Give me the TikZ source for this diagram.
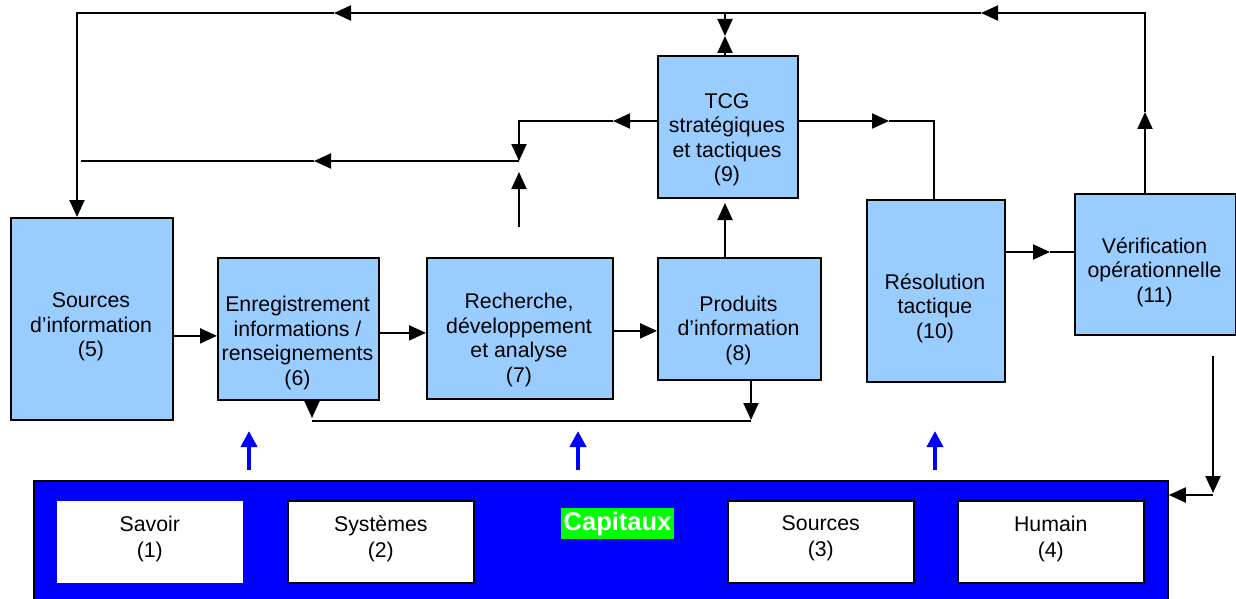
\documentclass[tikz,border=0pt]{standalone}
\usepackage{fontspec}
\setmainfont{Liberation Sans}
\usetikzlibrary{arrows.meta}
\definecolor{lb}{HTML}{99CCFF}
\definecolor{bb}{HTML}{0000FF}
\definecolor{gg}{HTML}{00FF00}
\begin{document}
\begin{tikzpicture}[x=1pt,y=-1pt,
  box/.style={draw=black, line width=1.8pt, fill=lb, inner sep=0pt, anchor=north west},
  wbox/.style={draw=black, line width=1.6pt, fill=white, inner sep=0pt, anchor=north west,
    minimum width=186pt, minimum height=82pt, align=center, text depth=11pt,
    font=\fontsize{21.3}{26}\selectfont},
  txt/.style={align=center, inner sep=0pt, font=\fontsize{21.3}{24.5}\selectfont},
  ln/.style={line width=2pt},
  thinln/.style={line width=1.4pt},
  arr/.style={line width=2pt, -{Triangle[length=17pt,width=15pt]}},
  bluearr/.style={draw=bb, line width=4.5pt, -{Triangle[length=16pt,width=16pt]}}]
\useasboundingbox (0,0) rectangle (1236,599);

% boxes
\node[box, minimum width=162pt, minimum height=202pt] (b5) at (10,217) {};
\node[box, minimum width=161pt, minimum height=142pt] (b6) at (217,257) {};
\node[box, minimum width=186pt, minimum height=141pt] (b7) at (426,257) {};
\node[box, minimum width=163pt, minimum height=122pt] (b8) at (657,257) {};
\node[box, minimum width=140pt, minimum height=142pt] (b9) at (657,55) {};
\node[box, minimum width=138pt, minimum height=182pt] (b10) at (866,199) {};
\node[box, minimum width=161pt, minimum height=141pt] (b11) at (1074,193) {};

% texts
\node[txt] (t5) at (91,327) {Sources\\d’information\\(5)};
\node[txt] (t6) at (297.5,343) {Enregistrement\\informations /\\renseignements\\(6)};
\node[txt] (t7) at (519,340) {Recherche,\\développement\\et analyse\\(7)};
\node[txt] (t8) at (738.5,330) {Produits\\d’information\\(8)};
\node[txt] (t9) at (727,140) {TCG\\stratégiques\\et tactiques\\(9)};
\node[txt] (t10) at (935,308) {Résolution\\tactique\\(10)};
\node[txt] (t11) at (1154.5,272) {Vérification\\opérationnelle\\(11)};

% capital bar
\node[draw=black, line width=1.8pt, fill=bb, anchor=north west, minimum width=1134pt, minimum height=135pt, inner sep=0pt] (cap) at (33,480) {};
\node[wbox, draw=none] (s1) at (56,500) {Savoir\\(1)};
\node[wbox] (s2) at (287,500) {Systèmes\\(2)};
\node[wbox] (s3) at (727,500) {Sources\\(3)};
\node[wbox] (s4) at (957,500) {Humain\\(4)};
\node[fill=gg, text=white, inner sep=0pt, minimum width=113pt, minimum height=31pt,
  font=\bfseries\fontsize{25.5}{28}\selectfont] (capt) at (617.5,523.5) {Capitaux};

% top loop
\coordinate (a1) at (1145,193);
\coordinate (a2) at (1145,112);
\coordinate (a3) at (1145,13);
\coordinate (a4) at (981,13);
\coordinate (a5) at (334,13);
\coordinate (a6) at (77,13);
\draw[arr] (a1) -- (a2);
\draw[arr] (a2) -- (a3) -- (a4);
\draw[arr] (a4) -- (a5);
\draw[arr] (a5) -- (a6) -- (a6 |- b5.north);

% TCG top
\coordinate (c1) at (725,13);
\coordinate (c2) at (725,36);
\draw[arr] (c1) -- (c2);
\draw[arr] (c2 |- b9.north) -- (c2);

% left of TCG
\coordinate (d0) at (657,121);
\coordinate (d1) at (613,121);
\coordinate (d2) at (519,121);
\coordinate (d3) at (519,161);
\coordinate (d4) at (519,227);
\coordinate (d5) at (519,172);
\coordinate (d6) at (314,161);
\coordinate (d7) at (81,161);
\draw[arr] (d0) -- (d1);
\draw[arr] (d1) -- (d2) -- (d3);
\draw[arr] (d4) -- (d5);
\draw[arr] (d3) -- (d6);
\draw[thinln] (d6) -- (d7);

% right of TCG
\coordinate (e0) at (797,121);
\coordinate (e1) at (889,121);
\coordinate (e2) at (934,121);
\draw[arr] (e0) -- (e1);
\draw[ln] (e1) -- (e2) -- (e2 |- b10.north);

% 8 -> 9
\coordinate (f1) at (725,203);
\draw[arr] (f1 |- b8.north) -- (f1);

% main chain
\draw[arr] ([yshift=-17pt]b5.east) -- ([yshift=-17pt]b5.east -| b6.west);
\draw[arr] ([yshift=-4pt]b6.east) -- ([yshift=-4pt]b6.east -| b7.west);
\draw[arr] ([yshift=-2.5pt]b7.east) -- ([yshift=-2.5pt]b7.east -| b8.west);

% bottom return
\coordinate (h1) at (312,399);
\coordinate (h2) at (312,418);
\coordinate (h3) at (312,421);
\coordinate (h4) at (751,421);
\coordinate (h5) at (751,420);
\draw[arr] (h1) -- (h2);
\draw[thinln] (h3) -- (h4);
\draw[arr] (h4 |- b8.south) -- (h5);

% 10 -> 11
\coordinate (k0) at (1004,252);
\coordinate (k1) at (1050,252);
\draw[arr] (k0) -- (k1);
\draw[thinln] (k1) -- (k1 -| b11.west);

% 11 -> capital
\coordinate (m0) at (1213,356);
\coordinate (m1) at (1213,493);
\coordinate (m2) at (1213,495);
\draw[arr] (m0) -- (m1);
\draw[arr] (m2) -- (m2 -| cap.east);

% blue arrows
\coordinate (u1) at (249,431);
\coordinate (u2) at (578,431);
\coordinate (u3) at (935,431);
\coordinate (w1) at (249,470);
\coordinate (w2) at (578,470);
\coordinate (w3) at (935,470);
\draw[bluearr] (w1) -- (u1);
\draw[bluearr] (w2) -- (u2);
\draw[bluearr] (w3) -- (u3);
\end{tikzpicture}
\end{document}
